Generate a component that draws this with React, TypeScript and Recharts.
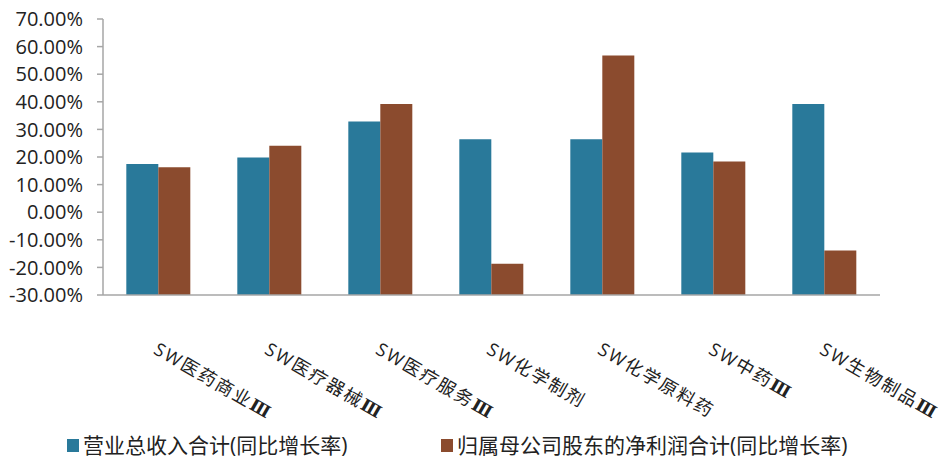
import { Bar, BarChart, Legend, XAxis, YAxis } from "recharts";

const CATEGORIES = [
  "SW医药商业Ⅲ",
  "SW医疗器械Ⅲ",
  "SW医疗服务Ⅲ",
  "SW化学制剂",
  "SW化学原料药",
  "SW中药Ⅲ",
  "SW生物制品Ⅲ",
];

// 营业总收入合计 / 归母净利润合计 同比增长率 (%)
const REVENUE_GROWTH = [17.5, 19.8, 32.9, 26.4, 26.4, 21.6, 39.2];
const PROFIT_GROWTH = [16.3, 24.1, 39.2, -18.7, 56.8, 18.4, -13.9];

const Y_TICKS = [-30, -20, -10, 0, 10, 20, 30, 40, 50, 60, 70];

const SERIES = [
  { key: "revenue", label: "营业总收入合计(同比增长率)", color: "#29799a" },
  { key: "profit", label: "归属母公司股东的净利润合计(同比增长率)", color: "#8b4b2e" },
];

const Y_MIN = Y_TICKS[0];
const Y_MAX = Y_TICKS[Y_TICKS.length - 1];

const data = CATEGORIES.map((name, i) => ({
  name,
  revenue: REVENUE_GROWTH[i],
  profit: PROFIT_GROWTH[i],
}));

const FONT = "'Open Sans', 'Noto Sans CJK SC', sans-serif";
const AXIS_COLOR = "#a6a6a6";
const LEGEND_HEIGHT = 30;
const X_AXIS_HEIGHT = 30;

// category label, tilted down to the right; the roman numeral gets a heavier serif face
function AngledTick({ x, y, payload }: any) {
  const label: string = payload.value;
  const hasNumeral = label.endsWith("Ⅲ");
  const body = hasNumeral ? label.slice(0, -1) : label;
  return (
    <g transform={`translate(${x - 6},${y + 50})`}>
      <text
        transform="rotate(30)"
        textAnchor="start"
        fontSize={18}
        letterSpacing={2}
        fill="#222"
        fontFamily={FONT}
      >
        {body}
        {hasNumeral && (
          <tspan fontFamily="'DejaVu Serif'" fontWeight={700} fontSize={17}>
            Ⅲ
          </tspan>
        )}
      </text>
    </g>
  );
}

function LegendRow() {
  return (
    <div
      style={{
        display: "flex",
        alignItems: "center",
        height: LEGEND_HEIGHT,
        paddingLeft: 67,
        fontFamily: FONT,
        fontSize: 21,
        lineHeight: `${LEGEND_HEIGHT}px`,
        color: "#222",
        whiteSpace: "nowrap",
      }}
    >
      {SERIES.map((s, i) => (
        <div
          key={s.key}
          style={{ display: "flex", alignItems: "center", width: i === 0 ? 374 : "auto" }}
        >
          <span style={{ width: 12, height: 13, background: s.color, marginRight: 4 }} />
          <span>{s.label}</span>
        </div>
      ))}
    </div>
  );
}

export default function App() {
  return (
    <div style={{ position: "absolute", left: 0, top: 0, width: 951, height: 460, background: "#fff" }}>
      <BarChart
        width={951}
        height={460}
        data={data}
        margin={{ top: 19, right: 71, left: 0, bottom: 165 - LEGEND_HEIGHT - X_AXIS_HEIGHT }}
        barCategoryGap="21%"
        barGap={0}
      >
        <XAxis
          dataKey="name"
          height={X_AXIS_HEIGHT}
          interval={0}
          tickLine={false}
          axisLine={{ stroke: AXIS_COLOR, strokeWidth: 1.5 }}
          tick={<AngledTick />}
        />
        <YAxis
          type="number"
          domain={[Y_MIN, Y_MAX]}
          ticks={Y_TICKS}
          interval={0}
          width={103}
          tickSize={6}
          tickMargin={14}
          axisLine={{ stroke: AXIS_COLOR, strokeWidth: 1.5 }}
          tickLine={{ stroke: AXIS_COLOR, strokeWidth: 1.5 }}
          tick={{ fontSize: 20, fill: "#222", fontFamily: FONT }}
          tickFormatter={(v: number) => `${v.toFixed(2)}%`}
        />
        <Legend
          verticalAlign="bottom"
          height={LEGEND_HEIGHT}
          content={<LegendRow />}
          wrapperStyle={{ top: 430, bottom: "auto", left: 0, width: 951 }}
        />
        {SERIES.map((s) => (
          <Bar
            key={s.key}
            dataKey={(d: any) => [Y_MIN, d[s.key]]}
            name={s.label}
            fill={s.color}
            isAnimationActive={false}
          />
        ))}
      </BarChart>
    </div>
  );
}
